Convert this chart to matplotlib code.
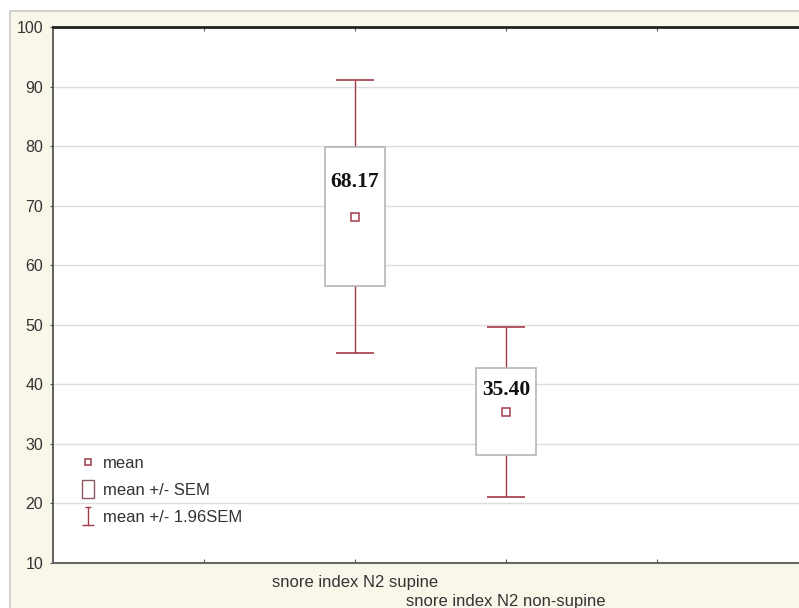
import numpy as np
import matplotlib
matplotlib.use("Agg")
import matplotlib.pyplot as plt
from matplotlib.patches import Rectangle
from matplotlib.lines import Line2D
from matplotlib.path import Path

plt.rcParams['font.family'] = ['Liberation Sans', 'DejaVu Sans']

# data
categories = ['snore index N2 supine', 'snore index N2 non-supine']
means = [68.17, 35.40]
sems = [11.7, 7.3]
mean_labels = ['68.17', '35.40']

red = '#a33a48'
box_grey = '#b5b5b5'
text_col = '#333333'

fig = plt.figure(figsize=(7.99, 6.08), dpi=100, facecolor='white')
# cream panel behind the plot, cut off at right/bottom like the original
fig.patches.append(Rectangle((10 / 799, -0.1), 1.2, 1.1 - 11 / 608,
                             transform=fig.transFigure, facecolor='#f9f7ea',
                             edgecolor='#c8c8c8', lw=1.2, zorder=-5))

ax = fig.add_axes([53 / 799, 45 / 608, 755 / 799, 536 / 608])
ax.set_facecolor('white')

x = np.arange(len(categories)) + 2
means = np.array(means)
sems = np.array(sems)

ax.set_xlim(0, 5)
ax.set_ylim(10, 100)
ax.set_yticks(np.arange(10, 101, 10))
ax.yaxis.grid(True, color='#dddddd', lw=1)
ax.set_axisbelow(True)

# whiskers: mean +/- 1.96 SEM
ax.errorbar(x, means, yerr=1.96 * sems, fmt='none', ecolor=red,
            elinewidth=1, capsize=14, capthick=1.2, zorder=2)
# boxes: mean +/- SEM
ax.bar(x, 2 * sems, bottom=means - sems, width=0.4, color='white',
       edgecolor=box_grey, lw=1.2, zorder=3)
# means
ax.plot(x, means, ls='none', marker='s', ms=6, mfc='white', mec=red,
        mew=1.1, zorder=4)

for xi, m, s, lab in zip(x, means, sems, mean_labels):
    ax.text(xi, m + s / 2, lab, ha='center', va='center', fontsize=15.5,
            fontweight='bold', family='Liberation Serif', color='#111111',
            zorder=5)

ax.set_xticks([1, 2, 3, 4])
ax.set_xticklabels(['', categories[0], '', ''], fontsize=12, color=text_col)
# second category label sits one line lower (staggered)
ax.annotate(categories[1], xy=(x[1], 0), xycoords=('data', 'axes fraction'),
            xytext=(0, -31), textcoords='offset pixels', ha='center',
            va='top', fontsize=12, color=text_col)
ax.tick_params(axis='x', direction='in', length=3, top=True, pad=9,
               color='#555555')
ax.tick_params(axis='y', direction='out', length=2, labelsize=11.5,
               labelcolor=text_col, pad=5, color='#555555')

for side in ['left', 'right']:
    ax.spines[side].set_color('#444444')
    ax.spines[side].set_linewidth(1.2)
ax.spines['top'].set_color('#222222')
ax.spines['top'].set_linewidth(2)
ax.spines['bottom'].set_color('#666666')
ax.spines['bottom'].set_linewidth(1.5)

# legend icons: tall box for SEM, small "I" whisker for 1.96 SEM
tall_box = Path([(-0.7, -1), (0.7, -1), (0.7, 1), (-0.7, 1), (-0.7, -1)],
                [Path.MOVETO, Path.LINETO, Path.LINETO, Path.LINETO, Path.CLOSEPOLY])
whisker = Path([(-0.35, 1), (0.35, 1), (0, 1), (0, -1), (-0.7, -1), (0.7, -1)],
               [Path.MOVETO, Path.LINETO, Path.MOVETO, Path.LINETO,
                Path.MOVETO, Path.LINETO])
handles = [
    Line2D([], [], ls='none', marker='s', ms=5, mfc='white', mec=red, mew=1.1),
    Line2D([], [], ls='none', marker=tall_box, ms=13, mfc='white', mec='#8a5a60', mew=1),
    Line2D([], [], ls='none', marker=whisker, ms=13, mfc='none', mec=red, mew=1),
]
labels = ['mean', 'mean +/- SEM', 'mean +/- 1.96SEM']
ax.legend(handles, labels, loc='lower left', bbox_to_anchor=(0.018, 0.043),
          frameon=False, fontsize=12, handlelength=0.8, handletextpad=0.5,
          labelspacing=0.72, labelcolor=text_col)

fig.savefig('out.png', dpi=100, facecolor=fig.get_facecolor())
